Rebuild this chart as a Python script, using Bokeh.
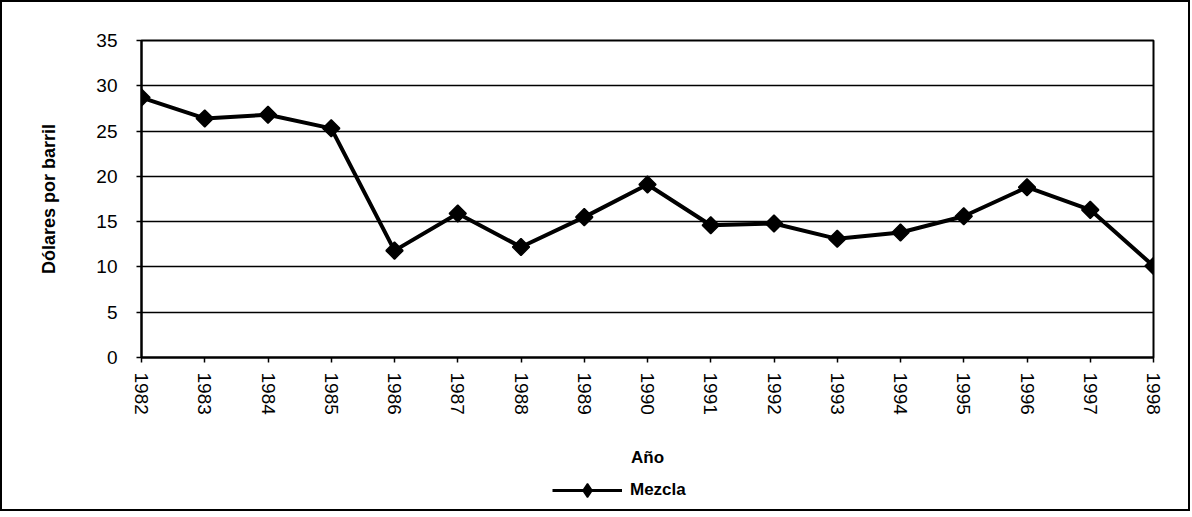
import math
from bokeh.plotting import figure
from bokeh.layouts import column
from bokeh.models import Range1d, FixedTicker, Legend, LegendItem
from bokeh.embed import file_html
from bokeh.resources import INLINE

anios = [1982, 1983, 1984, 1985, 1986, 1987, 1988, 1989, 1990,
         1991, 1992, 1993, 1994, 1995, 1996, 1997, 1998]
mezcla = [28.7, 26.4, 26.8, 25.3, 11.8, 15.9, 12.2, 15.5, 19.1,
          14.6, 14.8, 13.1, 13.8, 15.6, 18.8, 16.3, 10.1]
y_ticks = [0, 5, 10, 15, 20, 25, 30, 35]
serie = "Mezcla"
eje_x = "Año"
eje_y = "Dólares por barril"

FONT = "Liberation Sans"
LINE_KW = dict(line_color="black", line_width=4)

p = figure(frame_width=1012, frame_height=317,
           min_border_left=139, min_border_right=35,
           min_border_top=38, min_border_bottom=0,
           x_range=Range1d(anios[0], anios[-1]), y_range=Range1d(0, 35),
           output_backend="svg", toolbar_location=None,
           background_fill_color="white", border_fill_color="white")

p.outline_line_color = "black"
p.outline_line_width = 2

p.line(anios, mezcla, **LINE_KW)
p.scatter(anios, mezcla, marker="square", size=12, angle=math.pi / 4,
          fill_color="black", line_color="black", line_width=1.5)

p.xgrid.grid_line_color = None
p.ygrid.grid_line_color = "black"
p.ygrid.grid_line_width = 1.5

p.yaxis.ticker = FixedTicker(ticks=y_ticks)
p.xaxis.ticker = FixedTicker(ticks=anios)
p.xaxis.major_label_overrides = {a: str(a) for a in anios}
p.xaxis.major_label_orientation = "vertical"

for ax in (p.xaxis[0], p.yaxis[0]):
    ax.axis_line_color = "black"
    ax.axis_line_width = 2
    ax.major_tick_line_color = "black"
    ax.major_tick_line_width = 1.5
    ax.major_tick_out = 5
    ax.major_tick_in = 0
    ax.minor_tick_line_color = None
    ax.major_label_text_font = FONT
    ax.major_label_text_font_size = "19px"
    ax.major_label_text_color = "black"
    ax.axis_label_text_font = FONT
    ax.axis_label_text_font_style = "bold"
    ax.axis_label_text_color = "black"

p.yaxis.axis_label = eje_y
p.yaxis.axis_label_text_font_size = "18px"
p.yaxis.major_label_standoff = 19
p.yaxis.axis_label_standoff = 34

p.xaxis.axis_label = eje_x
p.xaxis.axis_label_text_font_size = "17px"
p.xaxis.major_label_standoff = 10
p.xaxis.axis_label_standoff = 30

# Legend strip below the chart (same series, data kept out of view)
leg = figure(frame_width=1186, frame_height=40,
             min_border_left=0, min_border_right=0,
             min_border_top=0, min_border_bottom=0,
             x_range=Range1d(0, 1), y_range=Range1d(0, 1),
             x_axis_location=None, y_axis_location=None,
             output_backend="svg", toolbar_location=None,
             background_fill_color="white", border_fill_color="white")
leg.outline_line_color = None
leg.xgrid.grid_line_color = None
leg.ygrid.grid_line_color = None
r_line = leg.line(anios, mezcla, line_color="black", line_width=3)
r_pts = leg.scatter(anios, mezcla, marker="diamond", size=20,
                    fill_color="black", line_color="black", line_width=1.5)

legend = Legend(items=[LegendItem(label=serie, renderers=[r_line, r_pts])],
                location=(550, 2), orientation="horizontal",
                border_line_color=None, background_fill_alpha=0,
                glyph_width=70, glyph_height=34, label_standoff=8,
                label_height=20,
                label_text_font=FONT, label_text_font_style="bold",
                label_text_font_size="17px", label_text_color="black",
                padding=2, margin=0)
leg.add_layout(legend)

layout = column(p, leg, spacing=0)
layout.styles = {"border": "2px solid black"}

open("out.html", "w").write(file_html(layout, INLINE))
